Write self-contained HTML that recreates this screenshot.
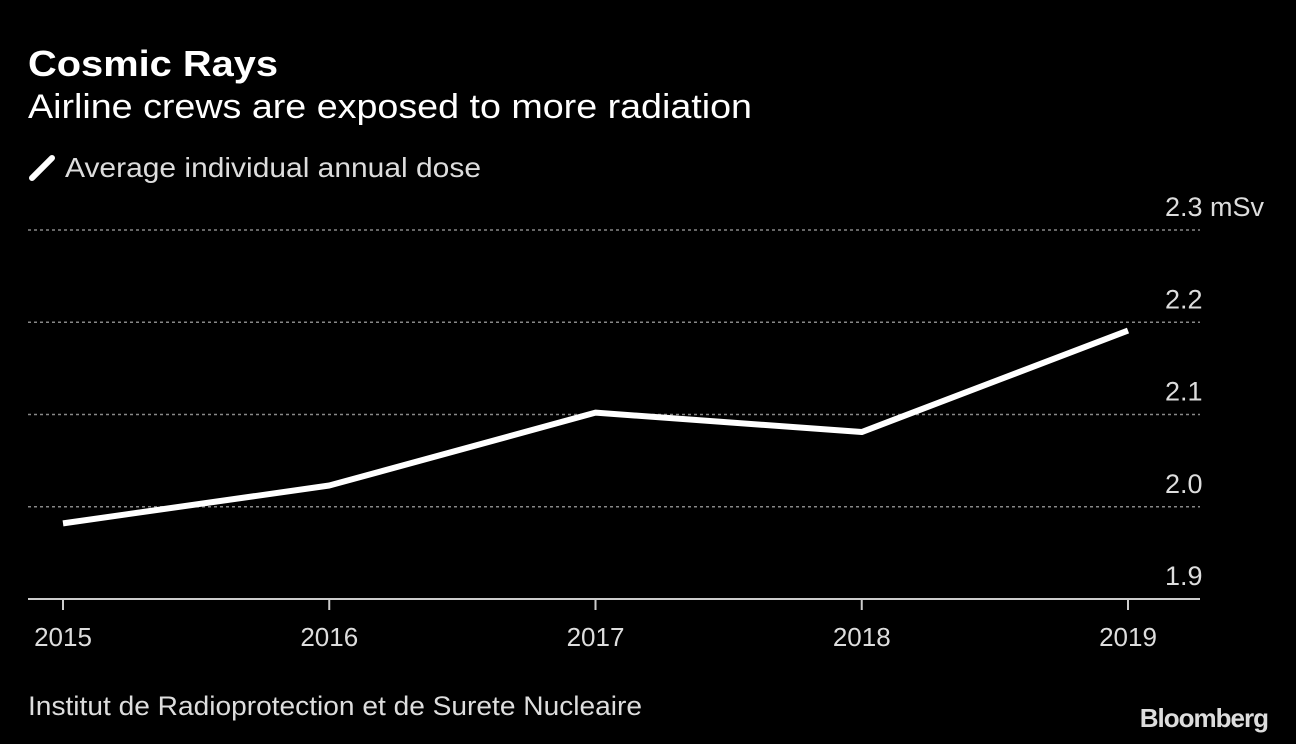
<!DOCTYPE html>
<html><head><meta charset="utf-8"><style>
body{margin:0;background:#000;}
svg{display:block;font-family:"Liberation Sans",sans-serif;}
</style></head><body>
<svg width="1296" height="744" viewBox="0 0 1296 744">
<rect width="1296" height="744" fill="#000"/>
<text x="28" y="76" fill="#fff" font-size="36" font-weight="bold" textLength="250" lengthAdjust="spacingAndGlyphs">Cosmic Rays</text>
<text x="28" y="118" fill="#fff" font-size="34" textLength="724" lengthAdjust="spacingAndGlyphs">Airline crews are exposed to more radiation</text>
<line x1="32" y1="178" x2="52" y2="158" stroke="#fff" stroke-width="6" stroke-linecap="round"/>
<text x="65" y="177" fill="#ddd" font-size="28" textLength="416" lengthAdjust="spacingAndGlyphs">Average individual annual dose</text>
<g id="grid"></g><g id="axis"></g><g id="series"></g>
<text x="28" y="715" fill="#ddd" font-size="27" textLength="614" lengthAdjust="spacingAndGlyphs">Institut de Radioprotection et de Surete Nucleaire</text>
<text x="1268" y="727" fill="#ddd" font-size="26" font-weight="bold" text-anchor="end" letter-spacing="-1">Bloomberg</text>
</svg>
<script>
const years=["2015","2016","2017","2018","2019"];
const doses=[1.982,2.023,2.102,2.081,2.191];
const yTicks=[1.9,2.0,2.1,2.2,2.3];
const yTickLabels=["1.9","2.0","2.1","2.2","2.3 mSv"];
const NS="http://www.w3.org/2000/svg";
const x=i=>63+i*(1128-63)/(years.length-1);
const y=v=>599-(v-1.9)*(599-230)/0.4;
function mk(t,a,p){const e=document.createElementNS(NS,t);for(const k in a)e.setAttribute(k,a[k]);p.appendChild(e);return e;}
const grid=document.getElementById('grid'),axis=document.getElementById('axis'),ser=document.getElementById('series');
yTicks.forEach((v,i)=>{
 if(i>0){const l=mk('line',{x1:28,x2:1200,y1:y(v),y2:y(v),stroke:'#888','stroke-width':1.5,'stroke-dasharray':'3,3'},grid);
 
 }
 const t=mk('text',{x:1165,y:y(v)-14,fill:'#ddd','font-size':27},grid);t.textContent=yTickLabels[i];
 
 
});
const ax=mk('line',{x1:28,x2:1200,y1:599,y2:599,stroke:'#ccc','stroke-width':2},axis);


years.forEach((yr,i)=>{
 const tk=mk('line',{x1:x(i),x2:x(i),y1:599,y2:610,stroke:'#ccc','stroke-width':2},axis);
 
 
 const t=mk('text',{x:x(i),y:646,fill:'#ddd','font-size':26,'text-anchor':'middle'},axis);t.textContent=yr;
 
 
});
const pl=mk('polyline',{points:doses.map((d,i)=>x(i)+','+y(d)).join(' '),fill:'none',stroke:'#fff','stroke-width':6,'stroke-linejoin':'round'},ser);


</script>
</body></html>
